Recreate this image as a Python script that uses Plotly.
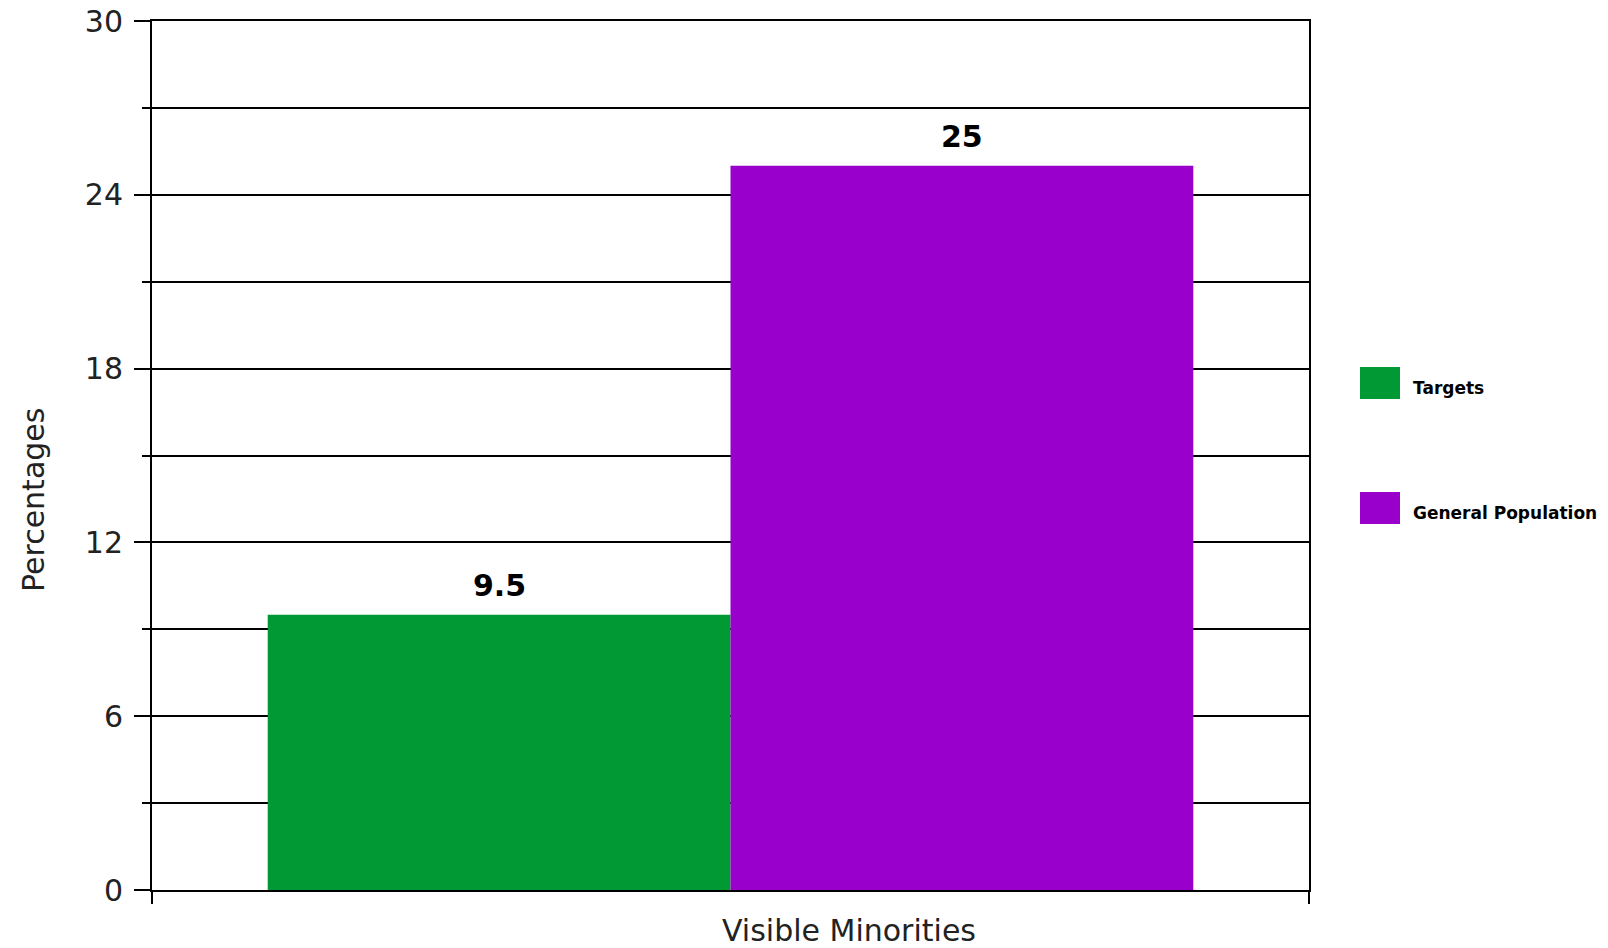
import plotly.graph_objects as go

categories = ["Visible Minorities"]
series_names = ["Targets", "General Population"]
targets = [9.5]
general_population = [25]
series_colors = ["#009933", "#9900CC"]
y_tick_vals = [0, 6, 12, 18, 24, 30]

W, H = 1608, 948
L, R, T, B = 152, 1309, 21, 890
BARGAP = 0.2

def px_x(p):
    return (p - L) / (R - L)

def px_y(p):
    return (B - p) / (B - T)

FONT = "DejaVu Sans"

fig = go.Figure()
for name, vals, col in zip(series_names, [targets, general_population], series_colors):
    fig.add_trace(go.Bar(x=categories, y=vals, name=name, marker=dict(color=col, line=dict(width=0)),
                         showlegend=False))

# value labels above bars
n = len(series_names)
bw = (1 - BARGAP) / n
for i, vals in enumerate([targets, general_population]):
    for j, v in enumerate(vals):
        fig.add_annotation(x=j - (1 - BARGAP) / 2 + bw * (i + 0.5), y=v, xref="x", yref="y",
                           text=f"<b>{v:g}</b>", showarrow=False, yanchor="bottom", yshift=10,
                           font=dict(family=FONT, size=30, color="black"))

# custom legend
leg_items = [(367, 399, 388), (492, 524, 513)]
for (y0, y1, ty), name, col in zip(leg_items, series_names, series_colors):
    fig.add_shape(type="rect", xref="paper", yref="paper", x0=px_x(1360), x1=px_x(1400),
                  y0=px_y(y1), y1=px_y(y0), fillcolor=col, line=dict(width=0))
    fig.add_annotation(xref="paper", yref="paper", x=px_x(1411), y=px_y(ty), text=f"<b>{name}</b>",
                       showarrow=False, xanchor="left", yanchor="middle",
                       font=dict(family=FONT, size=17, color="black"))

# axis titles
fig.add_annotation(xref="paper", yref="paper", x=px_x(849), y=px_y(930), text="Visible Minorities",
                   showarrow=False, xanchor="center", yanchor="middle",
                   font=dict(family=FONT, size=30, color="#222"))
fig.add_annotation(xref="paper", yref="paper", x=px_x(33), y=px_y(500), text="Percentages",
                   showarrow=False, xanchor="center", yanchor="middle", textangle=-90,
                   font=dict(family=FONT, size=30, color="#222"))

fig.update_layout(
    width=W, height=H,
    margin=dict(l=L, r=W - R, t=T, b=H - B),
    paper_bgcolor="white", plot_bgcolor="white",
    barmode="group", bargap=BARGAP, bargroupgap=0,
    showlegend=False,
    font=dict(family=FONT, size=30, color="#222"),
)
fig.update_xaxes(
    type="category", showticklabels=False, tickson="boundaries", ticks="outside", ticklen=12,
    tickwidth=2, tickcolor="black", showline=True, linecolor="black", linewidth=2, mirror=True,
    showgrid=False, zeroline=False, automargin=False,
)
fig.update_yaxes(
    range=[0, 30], tickvals=y_tick_vals, ticks="outside", ticklen=16, tickwidth=2, tickcolor="black",
    showline=True, linecolor="black", linewidth=2, mirror=True,
    showgrid=True, gridcolor="black", gridwidth=2, zeroline=False, automargin=False,
    tickfont=dict(family=FONT, size=30, color="#222"), ticklabelstandoff=5,
    minor=dict(dtick=3, showgrid=True, gridcolor="black", gridwidth=2, ticks="outside", ticklen=8,
               tickwidth=2, tickcolor="black"),
)

fig.write_html("out.html")
